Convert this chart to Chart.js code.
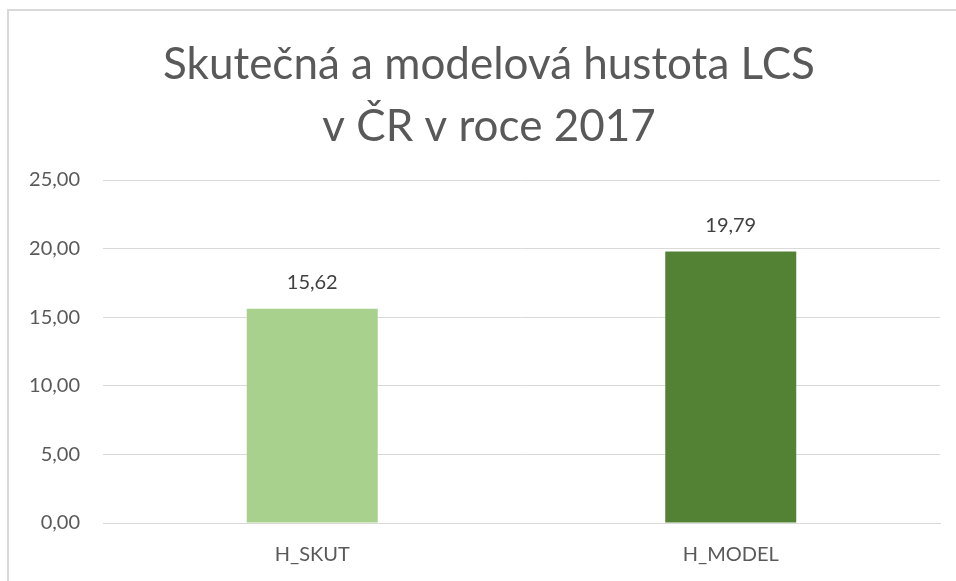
<!DOCTYPE html>
<html>
<head>
<meta charset="utf-8">
<script src="https://cdn.jsdelivr.net/npm/chart.js@4"></script>
<style>
  html, body { margin: 0; padding: 0; background: #fff; }
  #wrap { position: relative; width: 956px; height: 581px; }
  #frame { position: absolute; left: 7px; top: 9px; width: 1000px; height: 1000px; border-left: 2px solid #d9d9d9; border-top: 2px solid #d9d9d9; }
  canvas { position: absolute; left: 0; top: 0; }
</style>
</head>
<body>
<div id="wrap">
  <div id="frame"></div>
  <canvas id="chart" width="956" height="581"></canvas>
</div>
<script>
const categories = ['H_SKUT', 'H_MODEL'];
const values = [15.62, 19.79];
const barColors = ['#a9d18e', '#548235'];
const titleLines = ['Skutečná a modelová hustota LCS', 'v ČR v roce 2017'];
const yTicks = [0, 5, 10, 15, 20, 25];

const fmt = (v) => v.toFixed(2).replace('.', ',');
const font = 'Lato, "Open Sans", sans-serif';
const textColor = '#595959';

// title is centred on the whole chart frame, not on the plot, so draw it here
const frameTitle = {
  id: 'frameTitle',
  afterDraw(chart) {
    const ctx = chart.ctx;
    ctx.save();
    ctx.font = '44px ' + font;
    ctx.fillStyle = textColor;
    ctx.textAlign = 'center';
    ctx.textBaseline = 'middle';
    titleLines.forEach((line, i) => ctx.fillText(line, 489, 65 + i * 62));
    ctx.restore();
  }
};

// data labels above the bars, no datalabels plugin available offline
const valueLabels = {
  id: 'valueLabels',
  afterDatasetsDraw(chart) {
    const ctx = chart.ctx;
    const meta = chart.getDatasetMeta(0);
    ctx.save();
    ctx.font = '20px ' + font;
    ctx.fillStyle = '#404040';
    ctx.textAlign = 'center';
    ctx.textBaseline = 'middle';
    meta.data.forEach((bar, i) => {
      ctx.fillText(fmt(values[i]), bar.x, bar.y - 26);
    });
    ctx.restore();
  }
};

new Chart(document.getElementById('chart'), {
  type: 'bar',
  data: {
    labels: categories,
    datasets: [{ data: values, backgroundColor: barColors, barPercentage: 0.313, categoryPercentage: 1 }]
  },
  options: {
    responsive: false,
    animation: false,
    layout: { padding: { left: 0, right: 16, top: 180, bottom: 0 } },
    plugins: {
      legend: { display: false },
      tooltip: { enabled: false },
      title: { display: false }
    },
    scales: {
      x: {
        afterFit(scale) { scale.height = 58; },
        grid: { display: false, drawTicks: false },
        border: { color: '#d9d9d9', width: 1 },
        ticks: { color: textColor, font: { family: font, size: 20 }, padding: 20 }
      },
      y: {
        min: 0,
        max: 25,
        afterBuildTicks(scale) { scale.ticks = yTicks.map((v) => ({ value: v })); },
        afterFit(scale) { scale.width = 103; },
        grid: { color: '#d9d9d9', lineWidth: 1, drawTicks: false },
        border: { display: false },
        ticks: { color: textColor, font: { family: font, size: 20 }, padding: 23, callback: (v) => fmt(v) }
      }
    }
  },
  plugins: [frameTitle, valueLabels]
});
</script>
</body>
</html>
